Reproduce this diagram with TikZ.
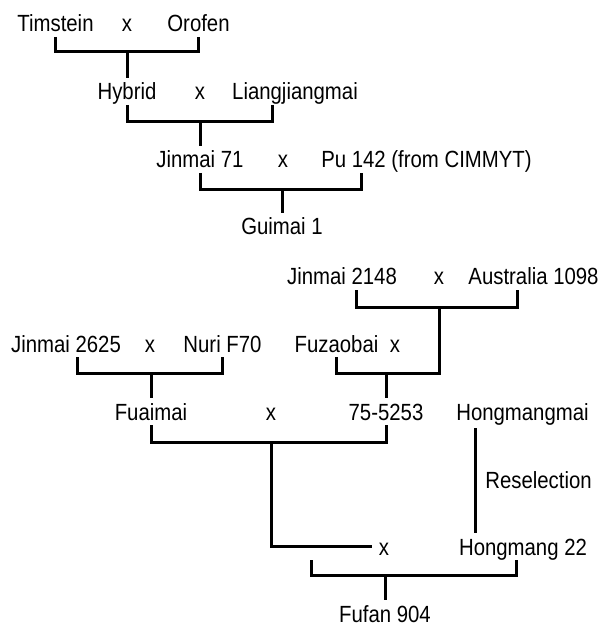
\documentclass[tikz,border=0pt]{standalone}
\usepackage{fontspec}
\setmainfont{Liberation Sans}[FakeStretch=0.87]
\usetikzlibrary{calc}

\begin{document}
\begin{tikzpicture}[
  x=0.5pt, y=-0.5pt,
  font=\fontsize{11.7}{14}\selectfont,
  cv/.style={anchor=base, inner xsep=3.5pt, inner ysep=2.5pt, outer sep=0pt,
    text height=8.5pt, text depth=0pt},
  bar/.style={line width=1.5pt}
]
\useasboundingbox (0,0) rectangle (605,625);

% --- Guimai 1 ---
\node[cv] (tim) at (55.5,32) {Timstein};
\node[cv] (x1) at (127,32) {x};
\node[cv] (oro) at (198.5,32) {Orofen};
\node[cv] (hyb) at (127,100) {Hybrid};
\node[cv] (x2) at (200,100) {x};
\node[cv] (liang) at (295,100) {Liangjiangmai};
\node[cv] (jin71) at (200,168) {Jinmai 71};
\node[cv] (x3) at (283,168) {x};
\node[cv] (pu) at (426.5,168) {Pu 142 (from CIMMYT)};
\node[cv] (gui) at (282,235) {Guimai 1};

\draw[bar] (tim.south) -- ++(0,15) coordinate (b1) -| (oro.south);
\draw[bar] (b1 -| hyb.north) -- (hyb.north);
\draw[bar] (hyb.south) -- ++(0,17) coordinate (b2) -| ($(liang.south)+(-23,0)$);
\draw[bar] (b2 -| jin71.north) -- (jin71.north);
\draw[bar] (jin71.south) -- ++(0,17) coordinate (b3) -| ($(pu.south)+(-65.5,0)$);
\draw[bar] (b3 -| gui.north) -- (gui.north);

% --- Fufan 904 ---
\node[cv] (j2148) at (342,285) {Jinmai 2148};
\node[cv] (x4) at (439,285) {x};
\node[cv] (aus) at (533.5,285) {Australia 1098};
\node[cv] (j2625) at (66,352) {Jinmai 2625};
\node[cv] (x5) at (150,352) {x};
\node[cv] (nuri) at (222.5,352) {Nuri F70};
\node[cv] (fuz) at (336.5,352) {Fuzaobai};
\node[cv] (x6) at (395,352) {x};
\node[cv] (fuai) at (151,420) {Fuaimai};
\node[cv] (x7) at (271,420) {x};
\node[cv] (c755) at (386,420) {75-5253};
\node[cv] (hmm) at (522.5,420) {Hongmangmai};
\node[cv] (resel) at (538.5,488) {Reselection};
\node[cv] (x8) at (384,555) {x};
\node[cv] (hm22) at (523,555) {Hongmang 22};
\node[cv] (fufan) at (385,622) {Fufan 904};

\draw[bar] ($(j2148.south)+(14,0)$) -- ++(0,17) coordinate (b4) -| ($(aus.south)+(-16.5,0)$);
\draw[bar] (fuz.south) -- ++(0,16) coordinate (b5) -| (b4 -| x4.south);
\draw[bar] (b5 -| c755.north) -- (c755.north);
\draw[bar] ($(j2625.south)+(11,0)$) -- ++(0,16) coordinate (b6) -| (nuri.south);
\draw[bar] (b6 -| fuai.north) -- (fuai.north);
\draw[bar] (fuai.south) -- ++(0,17) coordinate (b7) -| (c755.south);
\draw[bar] (b7 -| x7.south) |- (x8.west);
\draw[bar] ($(hmm.south)+(-47.5,3)$) -- ($(hm22.north)+(-48,0)$);
\draw[bar] ($(x8.south)+(-73,0)$) -- ++(0,15) coordinate (b8) -| ($(hm22.south)+(-7,0)$);
\draw[bar] (b8 -| fufan.north) -- (fufan.north);

\end{tikzpicture}
\end{document}
